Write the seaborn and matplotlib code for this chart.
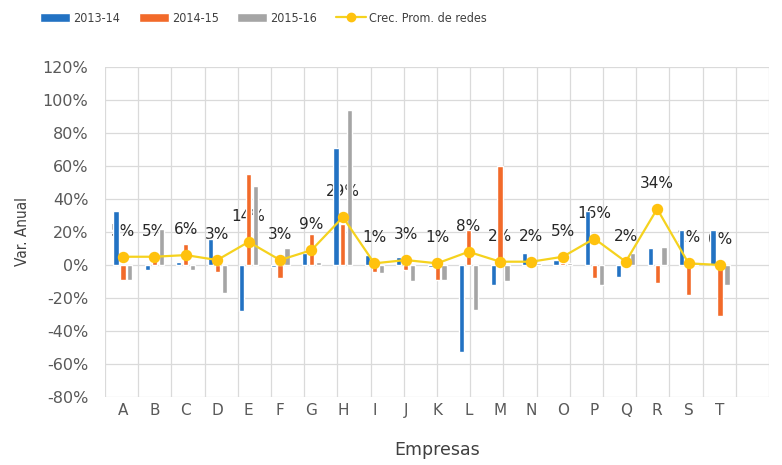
import matplotlib
matplotlib.use('Agg')
import matplotlib.pyplot as plt
import matplotlib.ticker as mticker
from matplotlib.lines import Line2D
from matplotlib.patches import Patch
import numpy as np
import pandas as pd
import seaborn as sns

# Data (in %)
empresas = list('ABCDEFGHIJKLMNOPQRST')
periodos = ['2013-14', '2014-15', '2015-16']
var_1314 = [33, -3, 2, 16, -28, -1, 7, 71, 6, 5, -1, -53, -12, 7, 3, 33, -7, 10, 21, 21]
var_1415 = [-9, 5, 13, -4, 55, -8, 19, 25, -4, -3, -9, 21, 60, 1, 1, -8, 2, -11, -18, -31]
var_1516 = [-9, 22, -3, -17, 48, 10, 2, 94, -5, -10, -9, -27, -10, 1, 1, -12, 7, 11, 2, -12]
crec_prom = [5, 5, 6, 3, 14, 3, 9, 29, 1, 3, 1, 8, 2, 2, 5, 16, 2, 34, 1, 0]

colores = ['#2272C3', '#F26A2A', '#A5A5A5']
amarillo = '#FFC20E'
linea = '#F5D21E'
gris_txt = '#595959'

df = pd.DataFrame({
    'Empresa': empresas * 3,
    'Periodo': np.repeat(periodos, len(empresas)),
    'Var': var_1314 + var_1415 + var_1516,
})
df_crec = pd.DataFrame({'Empresa': empresas, 'Crec': crec_prom})

sns.set_style('white')
plt.rcParams['font.family'] = ['DejaVu Sans']
plt.rcParams['axes.unicode_minus'] = False

fig = plt.figure(figsize=(7.82, 4.65), dpi=100)
ax = fig.add_axes([0.1343, 0.1462, 0.8491, 0.7098])

sns.barplot(data=df, x='Empresa', y='Var', hue='Periodo', palette=colores,
            width=0.66, gap=0.25, ax=ax, legend=False, saturation=1)
for p in ax.patches:
    p.set_zorder(2)

sns.pointplot(data=df_crec, x='Empresa', y='Crec', color=amarillo, ax=ax,
              markers='o', markersize=7, linewidth=1.6, errorbar=None)
for ln in ax.lines:
    ln.set_zorder(3)
    ln.set_color(linea)
    ln.set_markerfacecolor(amarillo)
    ln.set_markeredgecolor(amarillo)

# data labels (drawn under the bars, as in the original)
for i, v in enumerate(crec_prom):
    ax.annotate(f'{v:.0f}%', (i, v), xytext=(0, 13), textcoords='offset points',
                ha='center', va='bottom', fontsize=11, color='#262626', zorder=1)

ax.set_ylim(-80, 120)
ax.set_xlim(-0.57, 20.56)
ax.yaxis.set_major_locator(mticker.MultipleLocator(20))
ax.yaxis.set_major_formatter(mticker.PercentFormatter(100, decimals=0))
ax.set_xticks(range(len(empresas)))
ax.set_xticklabels(empresas)
ax.set_xticks(np.linspace(-0.57, 20.56, 21), minor=True)

ax.set_axisbelow(True)
ax.grid(axis='y', which='major', color='#DADADA', linewidth=0.9)
ax.grid(axis='x', which='minor', color='#DADADA', linewidth=0.9)
ax.grid(axis='x', which='major', visible=False)
ax.tick_params(axis='both', which='both', length=0, labelcolor=gris_txt)
ax.tick_params(axis='y', pad=12, labelsize=11.5)
ax.tick_params(axis='x', pad=4, labelsize=11)
for s in ax.spines.values():
    s.set_visible(False)

ax.set_xlabel('Empresas', fontsize=12.5, color='#404040', labelpad=17)
ax.set_ylabel('Var. Anual', fontsize=11, color='#404040', labelpad=9,
              fontstretch='condensed')

handles = [Patch(facecolor=c, label=l) for c, l in zip(colores, periodos)]
handles.append(Line2D([0], [0], color=linea, lw=1.6, marker='o', markersize=6,
                      markerfacecolor=amarillo, markeredgecolor=amarillo,
                      label='Crec. Prom. de redes'))
fig.legend(handles=handles, loc='center left', bbox_to_anchor=(0.051, 0.961),
           ncol=4, frameon=False, prop={'size': 9, 'stretch': 'condensed'},
           handlelength=2.4, handleheight=0.7, columnspacing=1.5,
           handletextpad=0.25, borderpad=0, borderaxespad=0, labelcolor='#404040')

fig.savefig('out.png', dpi=100)
